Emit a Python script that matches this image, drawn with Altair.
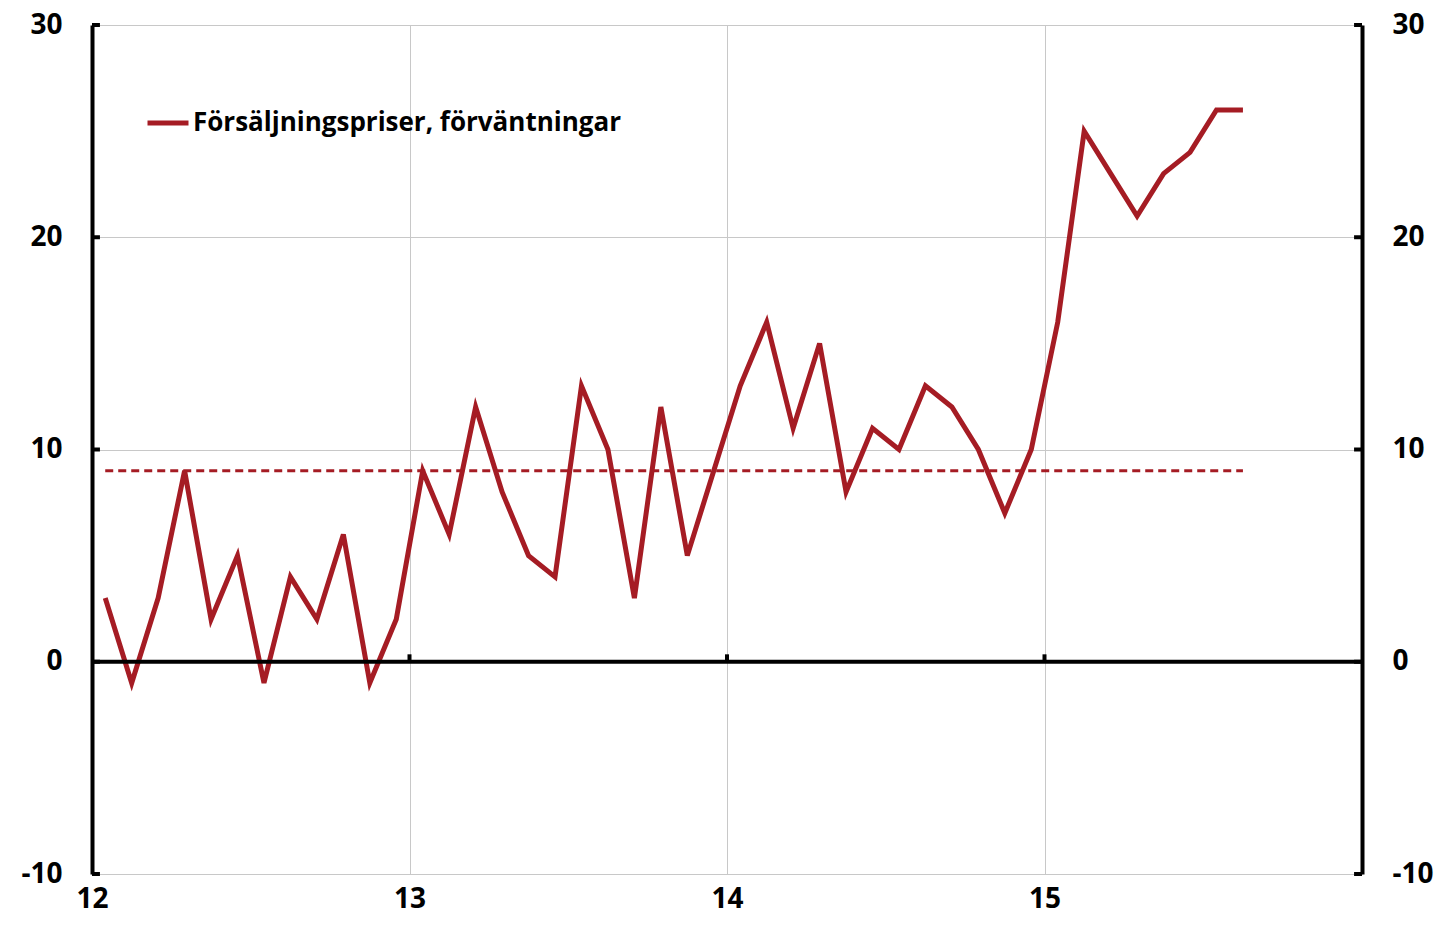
import altair as alt
import pandas as pd

RED = "#A51C24"
FONT = "Open Sans"

series_name = "Försäljningspriser, förväntningar"
# monthly values Jan 2012 .. Aug 2015
values_2012 = [3, -1, 3, 9, 2, 5, -1, 4, 2, 6, -1, 2]
values_2013 = [9, 6, 12, 8, 5, 4, 13, 10, 3, 12, 5, 9]
values_2014 = [13, 16, 11, 15, 8, 11, 10, 13, 12, 10, 7, 10]
values_2015 = [16, 25, 23, 21, 23, 24, 26, 26]
average = 9
x_ticks = [12, 13, 14, 15]
x_grid = [13, 14, 15]
y_ticks = [-10, 0, 10, 20, 30]

values = values_2012 + values_2013 + values_2014 + values_2015
t = [12 + (i + 0.5) / 12 for i in range(len(values))]
df = pd.DataFrame({"t": t, "v": values, "s": series_name})
avg_df = pd.DataFrame({"t": [t[0], t[-1]], "v": [average, average]})

xscale = alt.Scale(domain=[12, 16], nice=False, zero=False)
yscale = alt.Scale(domain=[-10, 30], nice=False, zero=False)

lab = dict(labelFont=FONT, labelFontSize=28, labelFontWeight="bold", labelColor="black",
           labelExpr="'' + datum.value")

line = alt.Chart(df).mark_line(strokeWidth=5, strokeJoin="miter").encode(
    x=alt.X("t:Q", scale=xscale,
            axis=alt.Axis(values=x_ticks, grid=True, gridColor="#c8c8c8", gridWidth=1,
                          domain=False, ticks=False, labelPadding=11, title=None,
                          labelAlign="center", labelFlush=False, **lab)),
    y=alt.Y("v:Q", scale=yscale,
            axis=alt.Axis(orient="left", values=y_ticks, grid=True, gridColor="#c8c8c8",
                          gridWidth=1, domainWidth=4, domainColor="black", ticks=False,
                          labelPadding=30, title=None, **lab)),
    color=alt.Color("s:N", scale=alt.Scale(domain=[series_name], range=[RED]),
                    legend=alt.Legend(orient="none", legendX=53, legendY=75, title=None,
                                      symbolType="stroke", symbolSize=1681,
                                      symbolStrokeWidth=5, labelOffset=2, padding=0,
                                      labelFont=FONT, labelFontSize=26,
                                      labelFontWeight="bold", labelColor="black",
                                      labelLimit=800)),
)

dashed = alt.Chart(avg_df).mark_line(color=RED, strokeWidth=3, strokeDash=[8, 5]).encode(
    x=alt.X("t:Q", scale=xscale, axis=None),
    y=alt.Y("v:Q", scale=yscale,
            axis=alt.Axis(orient="right", values=y_ticks, grid=False, domainWidth=4,
                          domainColor="black", ticks=False, labelPadding=30, title=None,
                          **lab)),
)

zero = alt.Chart(pd.DataFrame({"v": [0]})).mark_rule(color="black", strokeWidth=4).encode(
    y=alt.Y("v:Q", scale=yscale, axis=None)
)

zero_ticks = alt.Chart(pd.DataFrame({"t": x_grid})).mark_rule(color="black", strokeWidth=4).encode(
    x=alt.X("t:Q", scale=xscale, axis=None),
    y=alt.YDatum(0, scale=yscale, axis=None),
    y2=alt.Y2Datum(0.35),
)

left_ticks = alt.Chart(pd.DataFrame({"v": y_ticks})).mark_rule(color="black", strokeWidth=4).encode(
    y=alt.Y("v:Q", scale=yscale, axis=None),
    x=alt.XDatum(12, scale=xscale, axis=None),
    x2=alt.X2Datum(12.025),
)

right_ticks = alt.Chart(pd.DataFrame({"v": y_ticks})).mark_rule(color="black", strokeWidth=4).encode(
    y=alt.Y("v:Q", scale=yscale, axis=None),
    x=alt.XDatum(15.975, scale=xscale, axis=None),
    x2=alt.X2Datum(16),
)

chart = alt.layer(line, dashed, zero, zero_ticks, left_ticks, right_ticks).resolve_axis(
    y="independent", x="independent"
).properties(
    width=1270, height=849,
    autosize=alt.AutoSizeParams(type="none"),
    padding={"left": 84, "top": 17, "right": 76, "bottom": 46},
).configure_view(stroke=None).configure(background="white")

chart.save("out.html", embed_options={"renderer": "svg", "actions": False})
